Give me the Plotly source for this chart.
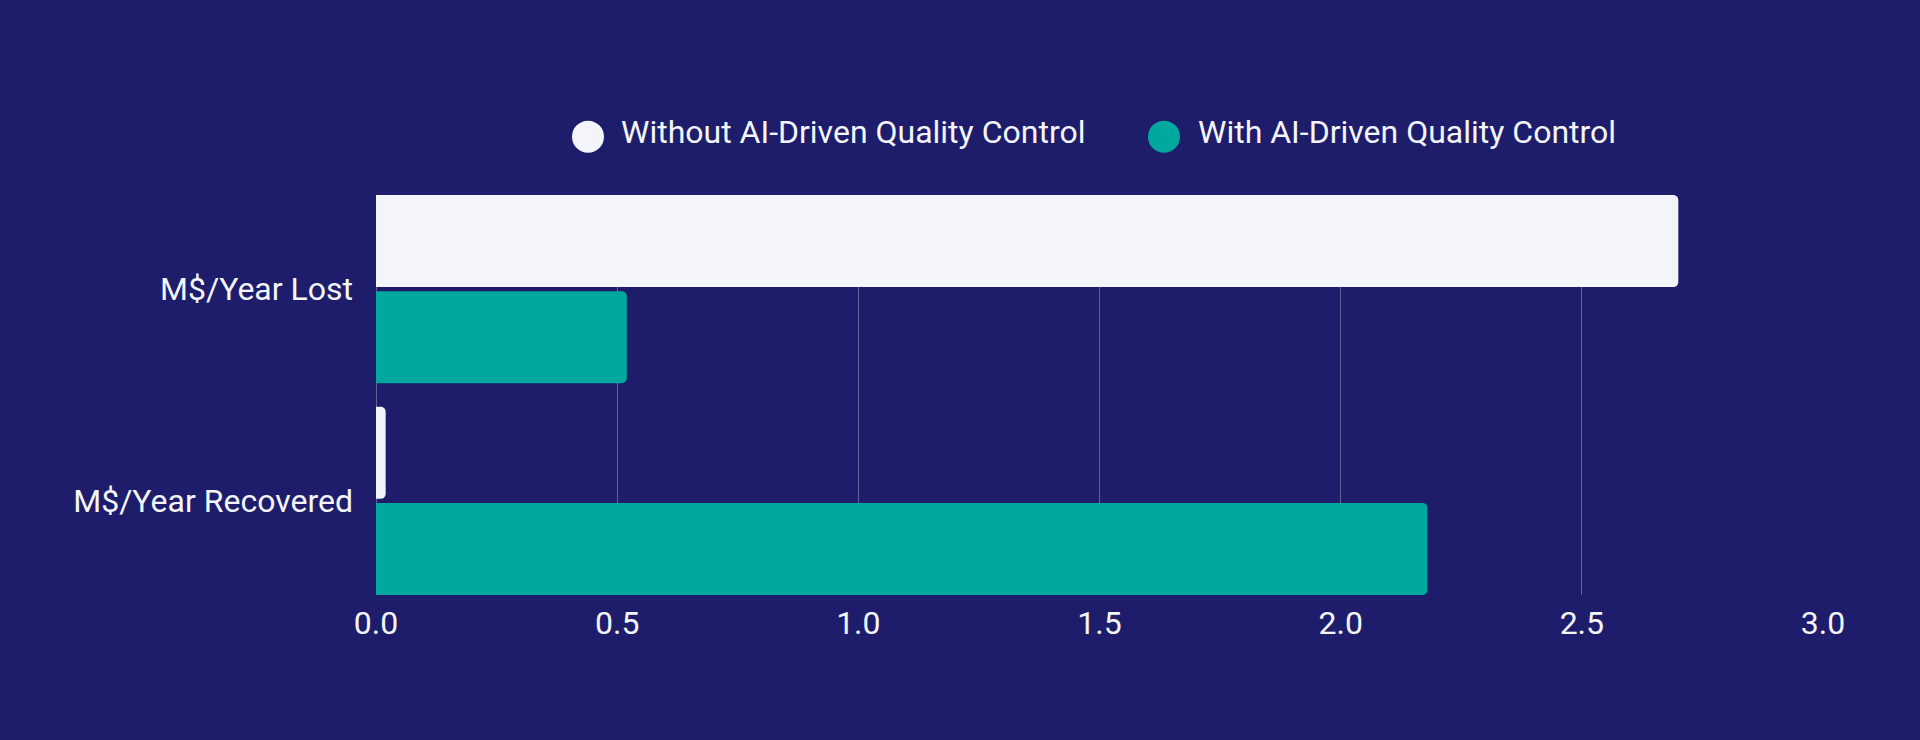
import plotly.graph_objects as go

# data
categories = ["M$/Year Lost", "M$/Year Recovered"]
without_ai = [2.70, 0.02]
with_ai = [0.52, 2.18]
series_names = ["Without AI-Driven Quality Control", "With AI-Driven Quality Control"]
x_ticks = [0.0, 0.5, 1.0, 1.5, 2.0, 2.5, 3.0]
x_tick_labels = ["0.0", "0.5", "1.0", "1.5", "2.0", "2.5", "3.0"]

BG = "#1E1D6B"
WHITE = "#F4F5FA"
TEAL = "#00A89E"
GRID = "rgba(255,255,255,0.3)"
FONT = "Roboto"
colors = [WHITE, TEAL]

fig = go.Figure()

for name, vals, color in zip(series_names, [without_ai, with_ai], colors):
    fig.add_trace(go.Bar(
        x=vals,
        y=categories,
        name=name,
        orientation="h",
        marker=dict(color=color, cornerradius=5, line=dict(width=0)),
        showlegend=False,
    ))

# legend drawn by hand: big round swatch + label (plotly caps legend markers at 16px)
legend_swatch_x = [0.14651, 0.54457]
legend_text_x = [0.16863, 0.56704]
legend_y = 1.1458
for name, color, sx, tx in zip(series_names, colors, legend_swatch_x, legend_text_x):
    fig.add_shape(
        type="circle",
        xref="paper", yref="paper",
        xsizemode="pixel", ysizemode="pixel",
        xanchor=sx, yanchor=legend_y,
        x0=-16, x1=16, y0=-16, y1=16,
        fillcolor=color, line=dict(width=0),
    )
    fig.add_annotation(
        text=name,
        xref="paper", yref="paper",
        x=tx, y=legend_y + 0.012,
        xanchor="left", yanchor="middle",
        showarrow=False,
        borderpad=0,
        font=dict(family=FONT, size=32, color=WHITE),
    )

fig.update_layout(
    width=1920,
    height=740,
    paper_bgcolor=BG,
    plot_bgcolor=BG,
    font=dict(family=FONT, size=32, color=WHITE),
    barmode="group",
    bargap=0.092,
    bargroupgap=0.042,
    showlegend=False,
    margin=dict(l=376, r=97, t=195, b=145, autoexpand=False),
    xaxis=dict(
        range=[0, 3.0],
        tickvals=x_ticks,
        ticktext=x_tick_labels,
        showgrid=True,
        gridcolor=GRID,
        gridwidth=1,
        zeroline=True,
        zerolinecolor=GRID,
        zerolinewidth=1,
        showline=False,
        ticks="",
        ticklabelstandoff=6,
        tickfont=dict(family=FONT, size=32, color=WHITE),
        fixedrange=True,
    ),
    yaxis=dict(
        type="category",
        categoryorder="array",
        categoryarray=categories,
        range=[1.4444, -0.4444],
        showgrid=False,
        zeroline=False,
        showline=False,
        ticks="",
        ticklabelstandoff=22,
        tickfont=dict(family=FONT, size=32, color=WHITE),
        fixedrange=True,
    ),
)

fig.write_html(
    "out.html",
    config={"displayModeBar": False},
    post_script="document.body.style.margin='0';document.body.style.background='%s';" % BG,
)
